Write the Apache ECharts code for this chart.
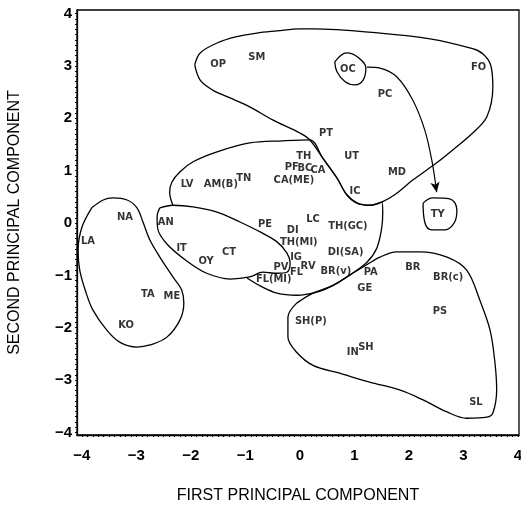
<!DOCTYPE html>
<html>
<head>
<meta charset="utf-8">
<script src="https://cdn.jsdelivr.net/npm/echarts@6/dist/echarts.min.js"></script>
<style>
  html, body { margin: 0; padding: 0; background: #fff; }
  #chart { width: 521px; height: 505px; }
</style>
</head>
<body>
<div id="chart"></div>
<script>
// site codes and their scores on the two principal components
var siteNames = ['OP', 'SM', 'OC', 'FO', 'PC', 'PT', 'TH', 'UT', 'MD', 'IC',
  'PF', 'BC', 'CA', 'CA(ME)', 'TN', 'AM(B)', 'LV', 'NA', 'AN', 'LA',
  'PE', 'DI', 'LC', 'TH(GC)', 'TH(MI)', 'IT', 'CT', 'OY', 'DI(SA)', 'IG',
  'PV', 'FL', 'RV', 'BR(v)', 'FL(MI)', 'PA', 'GE', 'BR', 'BR(c)', 'TY',
  'TA', 'ME', 'KO', 'SH(P)', 'PS', 'IN', 'SH', 'SL'];
var pc1 = [-1.50, -0.79, 0.88, 3.28, 1.56, 0.48, 0.07, 0.95, 1.78, 1.01,
  -0.15, 0.09, 0.33, -0.11, -1.03, -1.45, -2.07, -3.21, -2.46, -3.89,
  -0.64, -0.13, 0.24, 0.88, -0.02, -2.17, -1.30, -1.72, 0.84, -0.07,
  -0.35, -0.06, 0.15, 0.66, -0.48, 1.30, 1.19, 2.07, 2.72, 2.53,
  -2.79, -2.35, -3.19, 0.20, 2.57, 0.97, 1.21, 3.23];
var pc2 = [3.04, 3.17, 2.94, 2.98, 2.47, 1.72, 1.28, 1.28, 0.98, 0.61,
  1.07, 1.05, 1.01, 0.82, 0.86, 0.75, 0.75, 0.11, 0.02, -0.34,
  -0.02, -0.13, 0.08, -0.06, -0.36, -0.48, -0.55, -0.73, -0.55, -0.65,
  -0.84, -0.94, -0.82, -0.92, -1.07, -0.94, -1.24, -0.84, -1.03, 0.17,
  -1.36, -1.40, -1.95, -1.87, -1.68, -2.47, -2.37, -3.42];

// hand drawn group outlines, in component units
var groupTop = [[-1.93, 3.02], [-1.83, 3.25], [-1.52, 3.44], [-1.16, 3.56], [-0.79, 3.63], [-0.42, 3.67],
  [0, 3.71], [0.24, 3.71], [1.47, 3.63], [2.39, 3.52], [3.17, 3.33], [3.36, 3.23], [3.50, 3.02],
  [3.54, 2.60], [3.43, 2.03], [3.17, 1.72], [2.81, 1.40], [2.51, 1.15], [2.07, 0.82], [1.74, 0.54],
  [1.50, 0.40], [1.28, 0.34], [1.05, 0.38], [0.86, 0.54], [0.68, 0.86], [0.42, 1.24], [0.18, 1.59],
  [0, 1.72], [-0.50, 1.97], [-0.92, 2.22], [-1.28, 2.39], [-1.60, 2.54], [-1.83, 2.73], [-1.93, 3.02]];
var groupMid = [[-2.33, 0.34], [-2.39, 0.59], [-2.35, 0.78], [-2.20, 0.98], [-1.96, 1.17], [-1.52, 1.36],
  [-0.92, 1.53], [-0.31, 1.57], [0.18, 1.59], [0.42, 1.24], [0.68, 0.86], [0.86, 0.54], [1.05, 0.38],
  [1.28, 0.34], [1.50, 0.40], [1.52, 0.21], [1.50, -0.10], [1.41, -0.48], [1.23, -0.75], [0.92, -0.99],
  [0.61, -1.19], [0.31, -1.32], [-0.06, -1.38], [-0.42, -1.34], [-0.73, -1.20], [-0.97, -1.05]];
var groupAN = [[-2.57, 0.29], [-2.33, 0.34], [-1.96, 0.31], [-1.52, 0.21], [-1.10, 0.02], [-0.73, -0.17],
  [-0.42, -0.36], [-0.24, -0.57], [-0.18, -0.76], [-0.24, -0.94], [-0.42, -0.96], [-0.68, -0.94],
  [-0.92, -1.03], [-1.28, -1.07], [-1.71, -0.96], [-2.07, -0.73], [-2.44, -0.40], [-2.61, -0.10],
  [-2.62, 0.13], [-2.57, 0.29]];
var groupLeft = [[-3.82, 0.29], [-3.61, 0.44], [-3.43, 0.48], [-3.17, 0.44], [-2.99, 0.29], [-2.88, 0.02],
  [-2.75, -0.33], [-2.57, -0.65], [-2.33, -1.03], [-2.17, -1.28], [-2.13, -1.53], [-2.20, -1.85],
  [-2.44, -2.18], [-2.75, -2.33], [-2.99, -2.37], [-3.30, -2.28], [-3.54, -2.05], [-3.80, -1.66],
  [-3.94, -1.28], [-4.04, -0.90], [-4.07, -0.52], [-4.00, -0.08], [-3.82, 0.29]];
var groupLow = [[-0.06, -1.53], [0.24, -1.34], [0.61, -1.19], [0.92, -0.99], [1.16, -0.84], [1.47, -0.65],
  [1.78, -0.55], [2.20, -0.55], [2.70, -0.65], [3.06, -0.90], [3.30, -1.47], [3.49, -2.05], [3.58, -2.68],
  [3.61, -3.19], [3.54, -3.63], [3.43, -3.71], [3.06, -3.73], [2.70, -3.61], [2.26, -3.38], [1.83, -3.19],
  [1.28, -3.04], [0.73, -2.87], [0.24, -2.72], [-0.06, -2.47], [-0.22, -2.18], [-0.22, -1.80], [-0.06, -1.53]];
var ringOC = [[0.64, 3.08], [0.86, 3.25], [1.06, 3.17], [1.21, 2.96], [1.16, 2.73], [1.01, 2.64],
  [0.83, 2.70], [0.68, 2.89], [0.64, 3.08]];
var ringTY = [[2.26, 0.38], [2.44, 0.48], [2.75, 0.46], [2.88, 0.25], [2.84, 0.02], [2.66, -0.13],
  [2.42, -0.13], [2.29, 0.02], [2.26, 0.38]];
var arrowPath = [[1.23, 2.98], [1.47, 2.96], [1.78, 2.79], [2.07, 2.35], [2.29, 1.78], [2.42, 1.20], [2.51, 0.59]];

var xTicks = [-4, -3, -2, -1, 0, 1, 2, 3, 4];
var yTicks = [-4, -3, -2, -1, 0, 1, 2, 3, 4];

var minorX = [], minorY = [];
for (var t = -40; t <= 40; t++) { minorX.push(t / 10); minorY.push(t / 10); }

function minusFmt(v) {
  return v < 0 ? '\u2212' + (-v) : String(v);
}

function outline(pts, smooth) {
  return {
    type: 'line',
    data: pts,
    smooth: smooth,
    symbol: 'none',
    silent: true,
    lineStyle: { color: '#000', width: 1.3 }
  };
}

var chart = echarts.init(document.getElementById('chart'));

var arrowData = arrowPath.map(function (p, i) {
  if (i === arrowPath.length - 1) {
    return { value: p, symbol: 'arrow', symbolSize: [7, 10], symbolRotate: 190, itemStyle: { color: '#000' } };
  }
  return { value: p, symbol: 'none' };
});

var option = {
  animation: false,
  backgroundColor: '#fff',
  grid: {
    left: 77, right: 2, top: 10, bottom: 70,
    show: true, borderColor: '#000', borderWidth: 1.3,
    outerBoundsMode: 'none'
  },
  xAxis: {
    type: 'value',
    min: -4.09, max: 4.02,
    name: 'FIRST PRINCIPAL COMPONENT',
    nameLocation: 'middle',
    nameGap: 53,
    nameTextStyle: { fontFamily: 'Liberation Sans', fontSize: 16, color: '#000' },
    axisLine: { onZero: false, lineStyle: { color: '#000', width: 1.3 } },
    axisTick: { customValues: minorX, length: 2, lineStyle: { color: '#000' } },
    axisLabel: {
      customValues: xTicks, formatter: minusFmt, margin: 13,
      fontFamily: 'Liberation Sans', fontWeight: 'bold', fontSize: 15, color: '#000'
    },
    splitLine: { show: false }
  },
  yAxis: {
    type: 'value',
    min: -4.05, max: 4.07,
    name: 'SECOND PRINCIPAL COMPONENT',
    nameLocation: 'middle',
    nameGap: 54,
    nameTextStyle: { fontFamily: 'Liberation Sans', fontSize: 16, color: '#000' },
    axisLine: { onZero: false, lineStyle: { color: '#000', width: 1.3 } },
    axisTick: { customValues: minorY, length: 2, lineStyle: { color: '#000' } },
    axisLabel: {
      customValues: yTicks, formatter: minusFmt, margin: 5,
      fontFamily: 'Liberation Sans', fontWeight: 'bold', fontSize: 15, color: '#000'
    },
    splitLine: { show: false }
  },
  series: [
    outline(groupTop, 0.35),
    outline(groupMid, 0.35),
    outline(groupAN, 0.35),
    outline(groupLeft, 0.35),
    outline(groupLow, 0.35),
    outline(ringOC, 0.4),
    outline(ringTY, 0.4),
    {
      type: 'line',
      data: arrowData,
      smooth: 0.35,
      silent: true,
      lineStyle: { color: '#000', width: 1.2 }
    },
    {
      type: 'scatter',
      symbolSize: 0,
      data: siteNames.map(function (n, i) {
        return { name: n, value: [pc1[i], pc2[i]] };
      }),
      label: {
        show: true,
        position: 'inside',
        formatter: '{b}',
        color: '#000',
        fontFamily: "'Liberation Sans Narrow', 'DejaVu Sans Condensed', sans-serif",
        fontWeight: 'bold',
        fontSize: 11
      }
    }
  ]
};

chart.setOption(option);
</script>
</body>
</html>
